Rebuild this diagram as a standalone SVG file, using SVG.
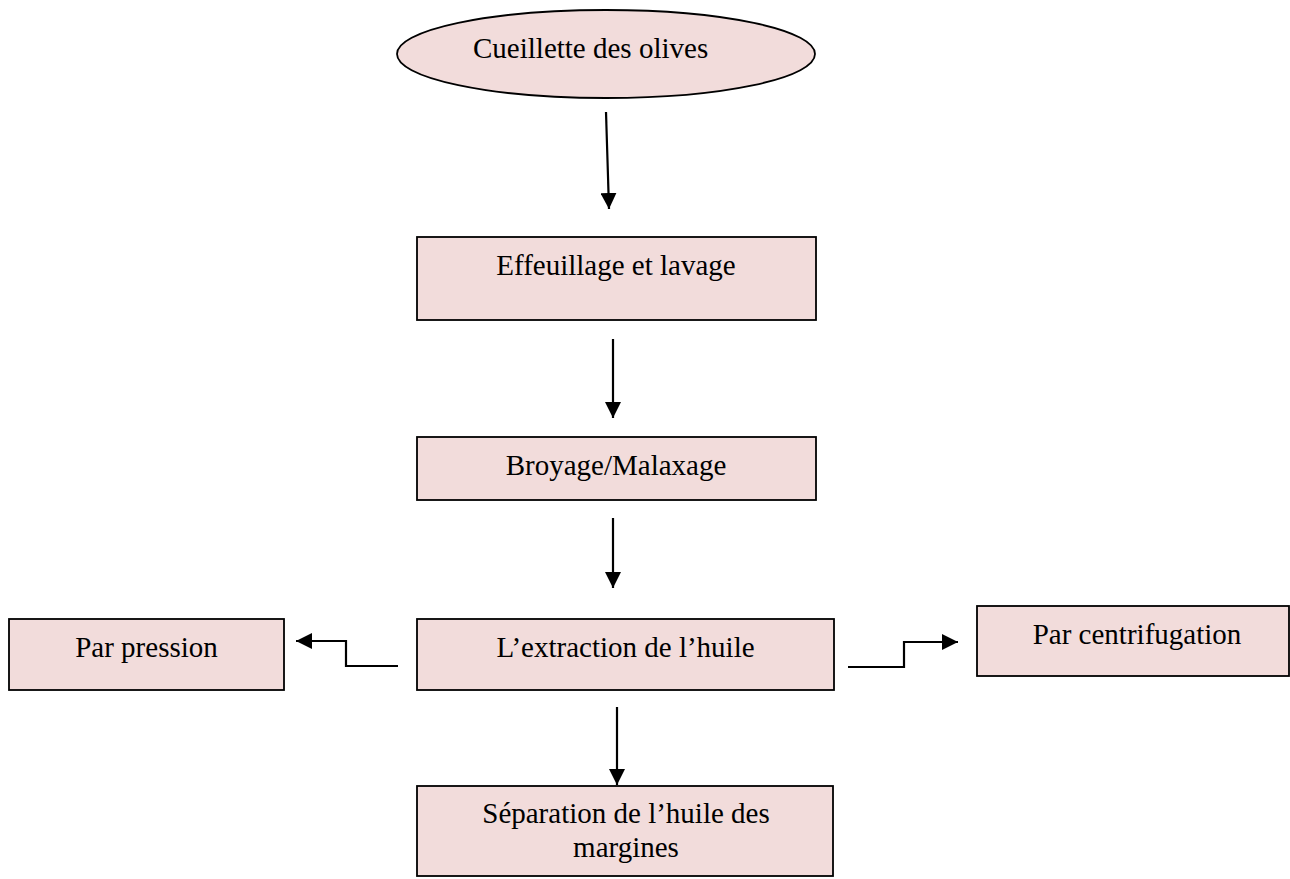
<svg xmlns="http://www.w3.org/2000/svg" width="1290" height="879" viewBox="0 0 1290 879">
<defs>
<style>
.n{fill:#F2DCDB;stroke:#000;stroke-width:1.8}
.t{font-family:"Liberation Serif","Times New Roman",serif;font-size:29px;fill:#000;text-anchor:middle}
.c{fill:none;stroke:#000;stroke-width:2.2}
</style>
<marker id="ah" markerUnits="userSpaceOnUse" markerWidth="16" markerHeight="16" viewBox="0 0 16 16" refX="16" refY="8" orient="auto">
<path d="M0,0 L16,8 L0,16 Z" fill="#000"/>
</marker>
</defs>
<rect width="1290" height="879" fill="#fff"/>
<g id="connectors">
<line class="c" x1="606" y1="112" x2="609" y2="209" marker-end="url(#ah)"/>
<line class="c" x1="613" y1="339" x2="613" y2="418" marker-end="url(#ah)"/>
<line class="c" x1="613" y1="518" x2="613" y2="588" marker-end="url(#ah)"/>
<line class="c" x1="617" y1="707" x2="617" y2="785" marker-end="url(#ah)"/>
<polyline class="c" points="398,666 346,666 346,641 296,641" marker-end="url(#ah)"/>
<polyline class="c" points="848,667 904,667 904,642 958,642" marker-end="url(#ah)"/>
</g>
<g id="n-cueillette">
<ellipse class="n" cx="606" cy="54" rx="209" ry="44"/>
<text class="t" x="473" y="58" style="text-anchor:start">Cueillette des olives</text>
</g>
<g id="n-effeuillage">
<rect class="n" x="417" y="237" width="399" height="83"/>
<text class="t" x="616" y="275">Effeuillage et lavage</text>
</g>
<g id="n-broyage">
<rect class="n" x="417" y="437" width="399" height="63"/>
<text class="t" x="616" y="475">Broyage/Malaxage</text>
</g>
<g id="n-extraction">
<rect class="n" x="417" y="619" width="417" height="71"/>
<text class="t" x="625.5" y="657">L’extraction de l’huile</text>
</g>
<g id="n-pression">
<rect class="n" x="9" y="619" width="275" height="71"/>
<text class="t" x="146.5" y="657">Par pression</text>
</g>
<g id="n-centrifugation">
<rect class="n" x="977" y="606" width="312" height="70"/>
<text class="t" x="1137" y="644">Par centrifugation</text>
</g>
<g id="n-separation">
<rect class="n" x="417" y="786" width="416" height="90"/>
<text class="t" x="626" y="823">Séparation de l’huile des</text>
<text class="t" x="626" y="857">margines</text>
</g>
</svg>
